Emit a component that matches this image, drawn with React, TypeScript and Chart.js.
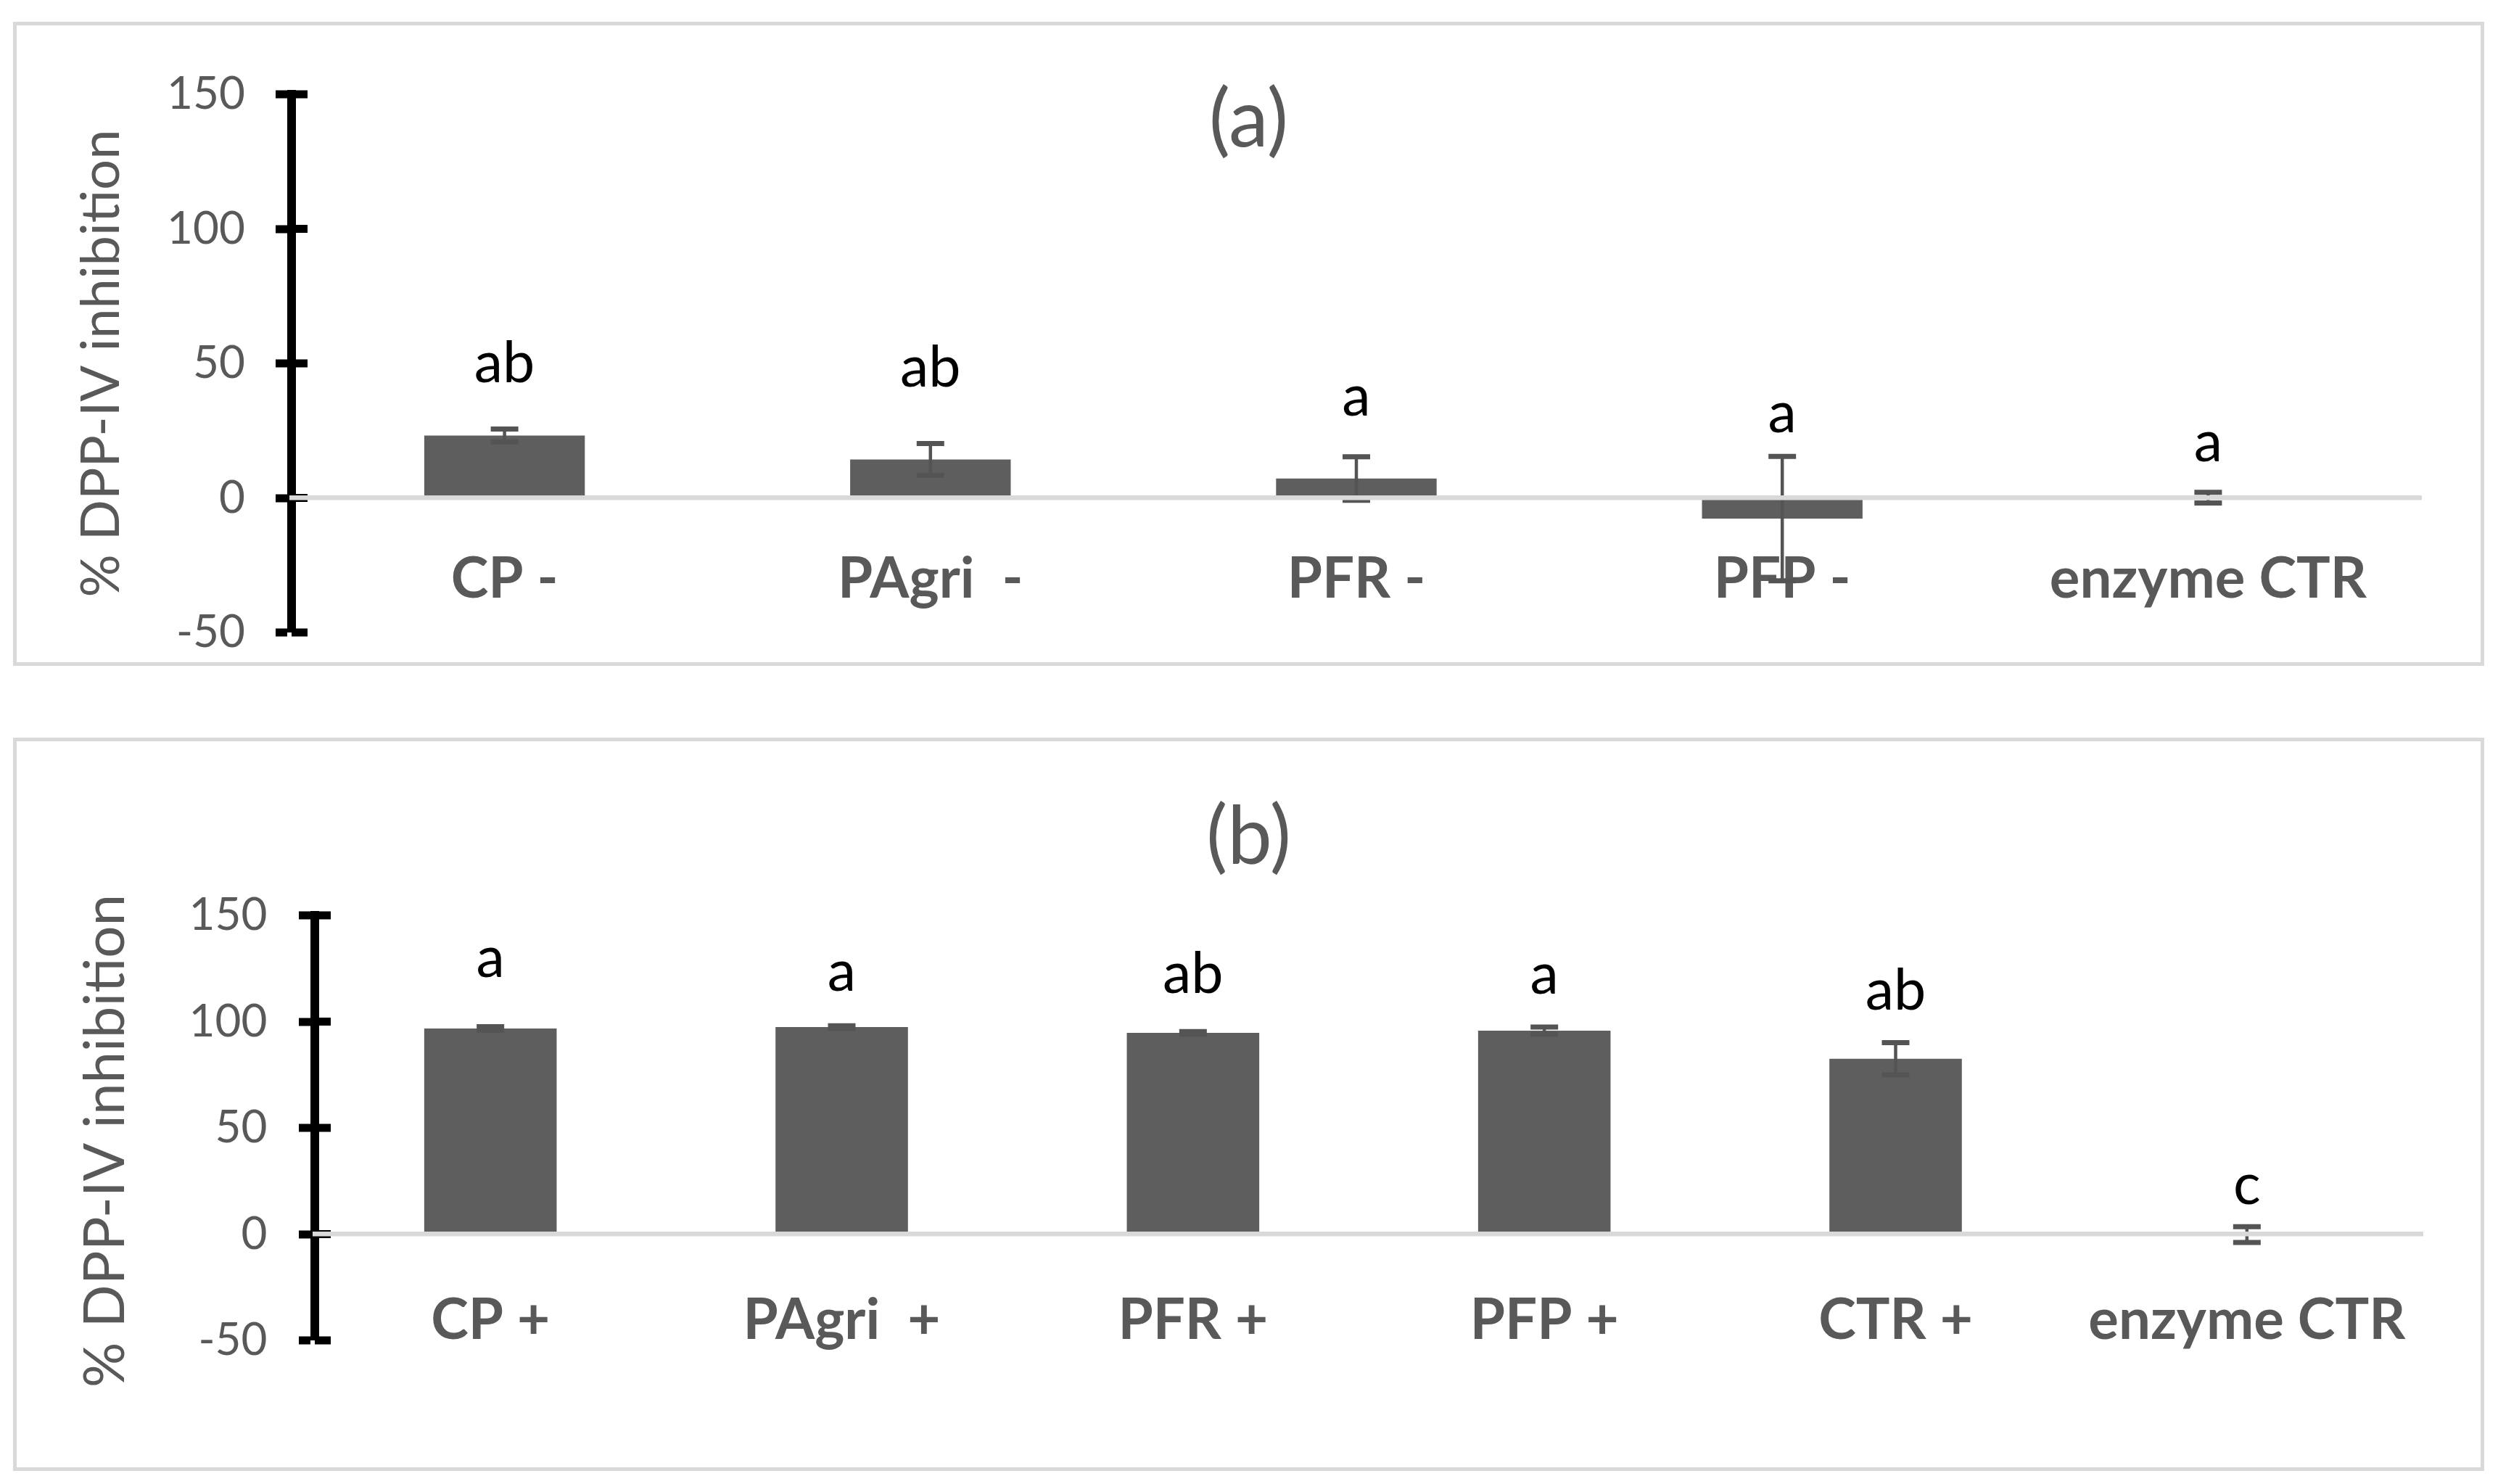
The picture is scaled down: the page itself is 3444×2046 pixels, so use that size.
import React, { useEffect, useRef } from "react";
import { Chart, registerables } from "chart.js";

Chart.register(...registerables);

// ---------- data ----------
const categoriesA = ["CP -", "PAgri  -", "PFR -", "PFP -", "enzyme CTR"];
const valuesA = [23.2, 14.3, 7.2, -7.7, 0.1];
const errorsA = [2.4, 5.9, 8.1, 23.1, 2.0];
const lettersA = ["ab", "ab", "a", "a", "a"];
const letterLevelA = [42.9, 41.5, 30.7, 24.3, 13.5];

const categoriesB = ["CP +", "PAgri  +", "PFR +", "PFP +", "CTR +", "enzyme CTR"];
const valuesB = [96.8, 97.4, 94.7, 95.7, 82.5, -0.2];
const errorsB = [0.8, 0.6, 0.6, 1.7, 7.6, 3.7];
const lettersB = ["a", "a", "ab", "a", "ab", "c"];
const letterLevelB = [121, 114.6, 113.6, 113.2, 105.7, 14.3];

const yTickValues = [-50, 0, 50, 100, 150];
const yAxisTitle = "% DPP-IV inhibition";

const FONT = "Lato";
const TEXT_GRAY = "#595959";
const BAR_GRAY = "#5e5e5e";
const ERR_GRAY = "#545454";

type PanelProps = {
  cats: string[];
  vals: number[];
  errs: number[];
  letters: string[];
  letterLevels: number[];
  panelTitle: string;
  width: number;
  height: number;
  padTop: number;
  padRight: number;
  padBottom: number;
  yWidth: number;
  yTickPad: number;
  xLabelPad: number;
  axisTitleSize: number;
  axisTitleX: number;
  axisTitleY: number;
  titleY: number;
};

function Panel(p: PanelProps & { style: React.CSSProperties }) {
  const ref = useRef<HTMLCanvasElement | null>(null);
  useEffect(() => {
    if (!ref.current) return;
    const overlay = {
      id: "overlay",
      beforeDatasetsDraw(chart: any) {
        const { ctx, chartArea } = chart;
        const ys = chart.scales.y;
        ctx.save();
        ctx.strokeStyle = "#000";
        ctx.lineWidth = 11;
        ys.ticks.forEach((t: any) => {
          const yp = ys.getPixelForValue(t.value);
          ctx.beginPath();
          ctx.moveTo(chartArea.left, yp);
          ctx.lineTo(chartArea.left + 22, yp);
          ctx.stroke();
        });
        ctx.restore();
      },
      afterDatasetsDraw(chart: any) {
        const { ctx } = chart;
        const xs = chart.scales.x;
        const ys = chart.scales.y;
        ctx.save();
        ctx.strokeStyle = ERR_GRAY;
        p.vals.forEach((v, i) => {
          const e = p.errs[i];
          const xp = xs.getPixelForValue(i);
          const yt = ys.getPixelForValue(v + e);
          const yb = ys.getPixelForValue(v - e);
          ctx.lineWidth = 4.5;
          ctx.beginPath();
          ctx.moveTo(xp, yt);
          ctx.lineTo(xp, yb);
          ctx.stroke();
          ctx.lineWidth = 7;
          ctx.beginPath();
          ctx.moveTo(xp - 19, yt);
          ctx.lineTo(xp + 19, yt);
          ctx.moveTo(xp - 19, yb);
          ctx.lineTo(xp + 19, yb);
          ctx.stroke();
        });
        ctx.restore();
      },
      afterDraw(chart: any) {
        const { ctx } = chart;
        const xs = chart.scales.x;
        const ys = chart.scales.y;
        ctx.save();
        // significance letters
        ctx.fillStyle = "#000";
        ctx.font = `79px ${FONT}`;
        ctx.textAlign = "center";
        ctx.textBaseline = "alphabetic";
        p.letters.forEach((l, i) => {
          ctx.fillText(l, xs.getPixelForValue(i), ys.getPixelForValue(p.letterLevels[i]));
        });
        // panel title
        ctx.fillStyle = TEXT_GRAY;
        ctx.font = `110px ${FONT}`;
        ctx.textBaseline = "middle";
        ctx.fillText(p.panelTitle, chart.width / 2, p.titleY);
        // y axis title
        ctx.font = `${p.axisTitleSize}px ${FONT}`;
        ctx.textBaseline = "alphabetic";
        ctx.translate(p.axisTitleX, p.axisTitleY);
        ctx.rotate(-Math.PI / 2);
        ctx.fillText(yAxisTitle, 0, 0);
        ctx.restore();
      },
    };

    const chart = new Chart(ref.current, {
      type: "bar",
      data: {
        labels: p.cats,
        datasets: [
          {
            data: p.vals,
            backgroundColor: BAR_GRAY,
            barPercentage: 0.377,
            categoryPercentage: 1,
            inflateAmount: 0,
          },
        ],
      },
      options: {
        animation: false,
        responsive: false,
        devicePixelRatio: 1,
        layout: {
          padding: { left: 0, top: p.padTop, right: p.padRight, bottom: p.padBottom },
        },
        plugins: {
          legend: { display: false },
          tooltip: { enabled: false },
          title: { display: false },
        },
        scales: {
          x: {
            type: "category",
            position: { y: 0 } as any,
            offset: true,
            grid: { display: false },
            border: { display: true, color: "#d9d9d9", width: 6.5, z: 1 },
            ticks: {
              color: TEXT_GRAY,
              font: { family: FONT, weight: "bold", size: 78 },
              padding: p.xLabelPad,
              maxRotation: 0,
              autoSkip: false,
            },
          },
          y: {
            type: "linear",
            min: -50,
            max: 150,
            afterBuildTicks: (s: any) => {
              s.ticks = yTickValues.map((v) => ({ value: v }));
            },
            ticks: {
              color: TEXT_GRAY,
              font: { family: FONT, size: 62, lineHeight: 1 },
              padding: p.yTickPad,
            },
            grid: {
              display: true,
              drawOnChartArea: false,
              drawTicks: true,
              tickLength: 22,
              color: "#000",
              tickColor: "#000",
              lineWidth: 0,
              tickWidth: 11,
            },
            border: { display: true, color: "#000", width: 12 },
            title: { display: false },
            afterFit: (s: any) => {
              s.width = p.yWidth;
              s.paddingTop = 0;
              s.paddingBottom = 0;
            },
          },
        },
      } as any,
      plugins: [overlay],
    });
    return () => chart.destroy();
  }, []);
  return (
    <div style={p.style}>
      <canvas
        ref={ref}
        width={p.width}
        height={p.height}
        style={{ position: "absolute", left: 0, top: 0, width: p.width, height: p.height }}
      />
    </div>
  );
}

export default function App() {
  const panelBase: React.CSSProperties = {
    position: "absolute",
    left: 18,
    width: 3407,
    boxSizing: "border-box",
    border: "5px solid #d9d9d9",
    background: "#fff",
  };
  return (
    <div
      style={{
        position: "absolute",
        left: 0,
        top: 0,
        width: 3444,
        height: 2046,
        background: "#fff",
        overflow: "hidden",
      }}
    >
      <Panel
        style={{ ...panelBase, top: 30, height: 888 }}
        cats={categoriesA}
        vals={valuesA}
        errs={errorsA}
        letters={lettersA}
        letterLevels={letterLevelA}
        panelTitle="(a)"
        width={3397}
        height={878}
        padTop={95}
        padRight={82}
        padBottom={41}
        yWidth={379}
        yTickPad={42}
        xLabelPad={58}
        axisTitleSize={74}
        axisTitleX={141}
        axisTitleY={466}
        titleY={132}
      />
      <Panel
        style={{ ...panelBase, top: 1017, height: 1011 }}
        cats={categoriesB}
        vals={valuesB}
        errs={errorsB}
        letters={lettersB}
        letterLevels={letterLevelB}
        panelTitle="(b)"
        width={3397}
        height={1001}
        padTop={240}
        padRight={80}
        padBottom={175}
        yWidth={411}
        yTickPad={43.5}
        xLabelPad={65}
        axisTitleSize={78}
        axisTitleX={148}
        axisTitleY={551}
        titleY={133}
      />
    </div>
  );
}
